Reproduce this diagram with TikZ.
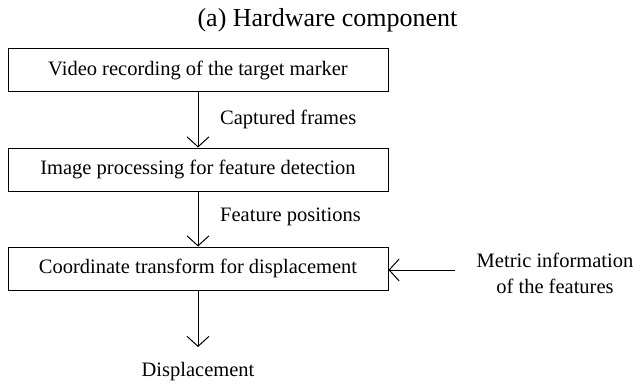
\documentclass[tikz,border=0pt]{standalone}
\usepackage{fontspec}
\setmainfont{Liberation Serif}
\usetikzlibrary{arrows.meta}
\begin{document}
\begin{tikzpicture}[x=1pt,y=-1pt,
  procbox/.style={draw, line width=1pt, minimum width=380pt, minimum height=43pt, inner sep=0pt, font=\fontsize{20.5}{24}\selectfont},
  lbl/.style={inner sep=0pt, font=\fontsize{20.5}{24}\selectfont},
  flow/.style={draw, line width=1pt, -{Straight Barb[length=10pt,width=22pt,line width=1pt]}}]
\useasboundingbox (0,0) rectangle (634,385);
\node[inner sep=0pt, font=\fontsize{26}{30}\selectfont] (title) at (327.5,20) {(a) Hardware component};
\node[procbox] (b1) at (198,70.5) {Video recording of the target marker};
\node[procbox] (b2) at (198,169.5) {Image processing for feature detection};
\node[procbox] (b3) at (198,268.5) {Coordinate transform for displacement};
\node[lbl, anchor=west] (l1) at (220,119) {Captured frames};
\node[lbl, anchor=west] (l2) at (220,217) {Feature positions};
\node[lbl, align=center, font=\fontsize{20.5}{26}\selectfont] (metric) at (555,273) {Metric information\\of the features};
\node[lbl] (disp) at (198,372) {Displacement};
\coordinate (m) at (455,270);
\coordinate (mend) at (b3.east |- m);
\coordinate (dend) at (198,347);
\draw[flow] (b1) -- (b2);
\draw[flow] (b2) -- (b3);
\draw[flow] (m) -- (mend);
\draw[flow] (b3) -- (dend);
\end{tikzpicture}
\end{document}
